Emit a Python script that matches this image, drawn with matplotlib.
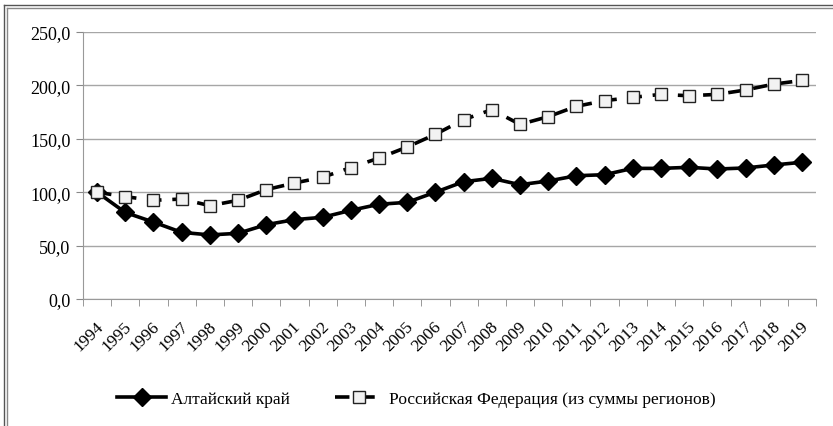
import numpy as np
import matplotlib
matplotlib.use("Agg")
import matplotlib.pyplot as plt
import matplotlib.transforms as mtransforms
from matplotlib.lines import Line2D
from matplotlib.ticker import FixedLocator, FuncFormatter

plt.rcParams['font.family'] = ['Liberation Serif', 'DejaVu Serif']

# Данные (индекс, 1994 = 100)
years = [str(y) for y in range(1994, 2020)]
altai = [100, 81, 72, 62.4, 60, 61.5, 69.6, 74.3, 76.5, 83, 88.7, 90.5, 100,
         109.8, 113, 107, 110.5, 115.4, 116.4, 122.3, 122.3, 123.3, 121.7,
         122.7, 125.5, 128]
rf = [100, 95.8, 92.4, 93.6, 87.4, 92.4, 102.4, 108.6, 114, 123, 132, 142.3,
      154.2, 167.9, 177.3, 163.5, 170.7, 180.4, 185.7, 188.8, 191.6, 190.3,
      191.6, 195.7, 201.2, 204.6]
labels = ['Алтайский край', 'Российская Федерация (из суммы регионов)']

fig = plt.figure(figsize=(8.33, 4.27), dpi=100)
ax = fig.add_axes([83/833, 1 - 300/427, (816 - 83)/833, (300 - 33)/427])

x = np.arange(len(years))
ax.plot(x, altai, color='black', lw=2.6, marker='D', markersize=9.5,
        markerfacecolor='black', markeredgecolor='black', label=labels[0], zorder=3)
ax.plot(x, rf, color='black', lw=2.6, dashes=(4, 3), marker='s', markersize=8,
        markerfacecolor='#f2f2f2', markeredgecolor='#222222', markeredgewidth=1,
        label=labels[1], zorder=3)

ax.set_xlim(-0.5, len(years) - 0.5)
ax.set_ylim(0, 250)
ax.set_yticks(np.arange(0, 251, 50))
ax.yaxis.set_major_formatter(FuncFormatter(lambda v, p: f'{v:.1f}'.replace('.', ',')))
ax.grid(axis='y', color='#a6a6a6', lw=1)
ax.set_axisbelow(True)

ax.set_xticks(x)
ax.set_xticklabels(years, rotation=45, ha='right', va='center', rotation_mode='anchor')
ax.xaxis.set_minor_locator(FixedLocator(np.arange(-0.5, len(years), 1)))
ax.tick_params(axis='x', which='major', length=0, pad=18, labelsize=12.5)
ax.tick_params(axis='x', which='minor', length=5, color='#888888', direction='out')
ax.tick_params(axis='y', length=5, color='#888888', labelsize=13, pad=4)
offset = mtransforms.ScaledTranslation(4/100, 0, fig.dpi_scale_trans)
for lab in ax.get_xticklabels():
    lab.set_transform(lab.get_transform() + offset)

for s in ['top', 'right']:
    ax.spines[s].set_visible(False)
ax.spines['left'].set_color('#999999')
ax.spines['bottom'].set_color('#999999')

leg = fig.legend(loc='center', bbox_to_anchor=(0.5, 1 - 400/427), ncol=2,
                 frameon=False, fontsize=12.5, handlelength=2.8, columnspacing=2.6,
                 handletextpad=0.3)

# рамка
fig.add_artist(Line2D([4/833, 4/833], [0, 1 - 6/427], transform=fig.transFigure, color='#555555', lw=1))
fig.add_artist(Line2D([7/833, 7/833], [0, 1 - 9/427], transform=fig.transFigure, color='#888888', lw=1))
fig.add_artist(Line2D([4/833, 1], [1 - 6/427, 1 - 6/427], transform=fig.transFigure, color='#555555', lw=1))
fig.add_artist(Line2D([7/833, 1], [1 - 9/427, 1 - 9/427], transform=fig.transFigure, color='#888888', lw=1))

fig.savefig('out.png', dpi=100)
